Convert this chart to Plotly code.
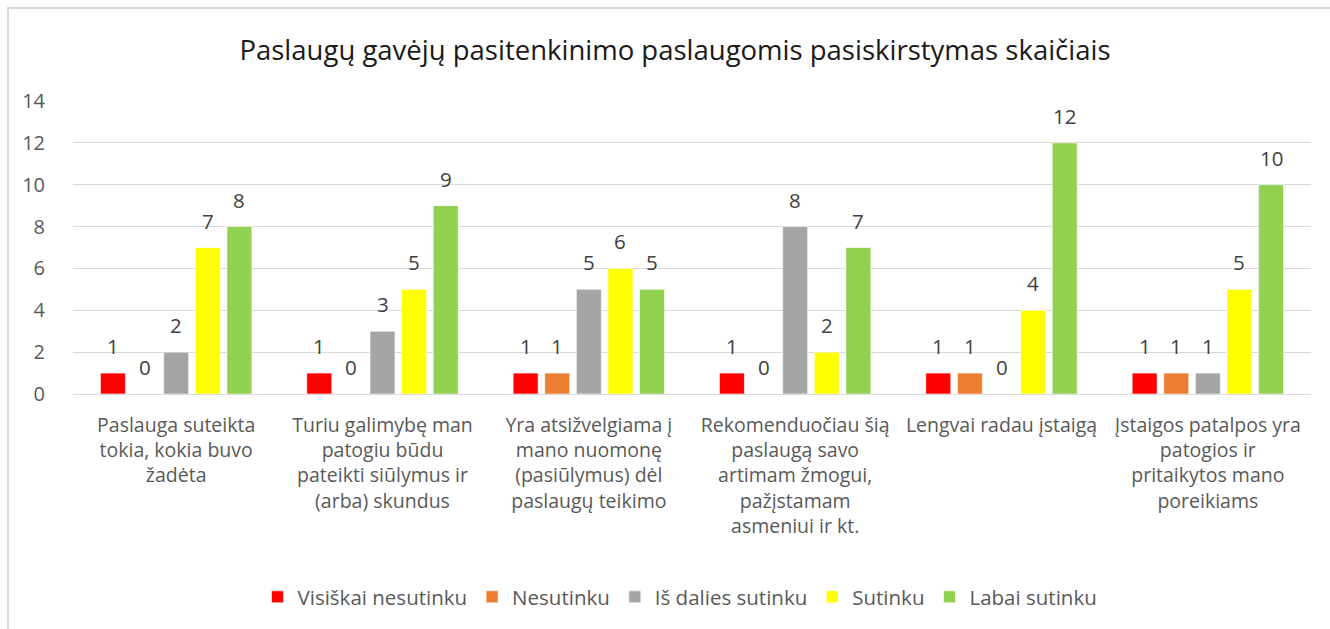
import plotly.graph_objects as go

categories = [
    "Paslauga suteikta<br>tokia, kokia buvo<br>žadėta",
    "Turiu galimybę man<br>patogiu būdu<br>pateikti siūlymus ir<br>(arba) skundus",
    "Yra atsižvelgiama į<br>mano nuomonę<br>(pasiūlymus) dėl<br>paslaugų teikimo",
    "Rekomenduočiau šią<br>paslaugą savo<br>artimam žmogui,<br>pažįstamam<br>asmeniui ir kt.",
    "Lengvai radau įstaigą",
    "Įstaigos patalpos yra<br>patogios ir<br>pritaikytos mano<br>poreikiams",
]
series_names = ["Visiškai nesutinku", "Nesutinku", "Iš dalies sutinku", "Sutinku", "Labai sutinku"]
visiskai_nesutinku = [1, 1, 1, 1, 1, 1]
nesutinku = [0, 0, 1, 0, 1, 1]
is_dalies_sutinku = [2, 3, 5, 8, 0, 1]
sutinku = [7, 5, 6, 2, 4, 5]
labai_sutinku = [8, 9, 5, 7, 12, 10]
series_values = [visiskai_nesutinku, nesutinku, is_dalies_sutinku, sutinku, labai_sutinku]
colors = ["#FF0000", "#ED7D31", "#A5A5A5", "#FFFF00", "#92D050"]
title_text = "Paslaugų gavėjų pasitenkinimo paslaugomis pasiskirstymas skaičiais"

FONT = "Open Sans"
W, H = 1330, 629
ML, MR, MT, MB = 73, 19, 101, 235
pw = W - ML - MR
ph = H - MT - MB

fig = go.Figure()
for name, vals, col in zip(series_names, series_values, colors):
    fig.add_trace(go.Bar(
        x=categories, y=vals, name=name,
        marker=dict(color=col, line=dict(color="rgba(255,255,255,0.6)", width=1)),
    ))

# data labels
group_w = pw / len(categories)
bargap = 0.234
slot = group_w * (1 - bargap) / len(series_names)
annotations = []
for i, vals in enumerate(series_values):
    for c, v in zip(categories, vals):
        annotations.append(dict(
            x=c, y=v, xref="x", yref="y", text=str(v), showarrow=False,
            xshift=(i - 2) * slot, yanchor="bottom", yshift=11,
            font=dict(family=FONT, size=20.5, color="#404040"),
        ))

fig.update_layout(
    width=W, height=H,
    margin=dict(l=ML, r=MR, t=MT, b=MB),
    paper_bgcolor="white", plot_bgcolor="white",
    barmode="group", bargap=bargap, bargroupgap=0.21,
    title=dict(text=title_text, x=675 / W, xanchor="center",
               y=1 - 50 / H, yanchor="middle",
               font=dict(family=FONT, size=27.5, color="#1a1a1a")),
    xaxis=dict(showgrid=False, showline=False, ticks="", tickangle=0,
               tickfont=dict(family=FONT, size=19.5, color="#595959"),
               ticklabelstandoff=17),
    yaxis=dict(range=[0, 14], dtick=2, showgrid=True, gridcolor="#D9D9D9", gridwidth=1,
               zeroline=True, zerolinecolor="#D9D9D9", zerolinewidth=1,
               tickfont=dict(family=FONT, size=20, color="#595959"),
               ticklabelstandoff=27),
    legend=dict(orientation="h", x=(680 - ML) / pw, xanchor="center",
                y=-(597 - (H - MB)) / ph, yanchor="middle",
                font=dict(family=FONT, size=20.5, color="#595959"),
                itemwidth=30, tracegroupgap=0),
    annotations=annotations,
    shapes=[dict(type="rect", xref="paper", yref="paper",
                 x0=(8 - ML) / pw, x1=(W + 20 - ML) / pw,
                 y0=-(H + 20 - (H - MB)) / ph, y1=((H - MB) - 8) / ph,
                 line=dict(color="#D9D9D9", width=2), fillcolor="rgba(0,0,0,0)",
                 layer="below")],
    showlegend=True,
)

fig.write_html("out.html")
